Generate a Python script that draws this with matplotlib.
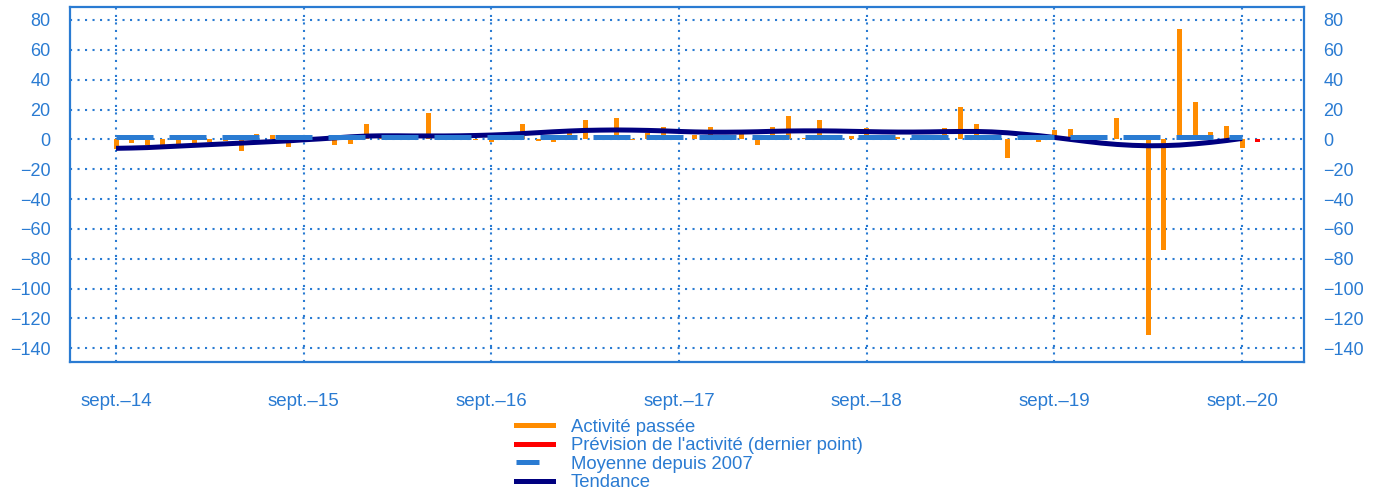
import matplotlib.pyplot as plt
from matplotlib.lines import Line2D

# months counted from sept. 2014 (0) to sept. 2020 (72)
activite = [
    -6.5, -2.5, -4.0, -3.7, -3.0, -2.5, -2.0, -1.0, -7.5, 3.7, 3.0, -4.8,
    0.5, 0.3, -4.0, -3.0, 10.0, 2.5, 0.5, 2.0, 18.0, -0.5, 0.5, -0.5,
    -2.0, 0.5, 10.5, -1.0, -1.8, 6.0, 13.0, 1.0, 14.0, -0.5, 4.0, 8.5,
    1.0, 3.0, 8.0, 1.0, 4.0, -4.0, 8.0, 15.7, 1.0, 13.0, 1.0, 2.0,
    7.5, 0.5, 1.5, 0.5, 0.5, 7.5, 22.0, 10.4, 0.5, -12.6, 0.5, -1.5,
    6.3, 7.0, 0.5, 1.5, 14.3, 0.5, -130.8, -74.4, 73.7, 25.0, 5.0, 9.0,
    -5.7,
]

prevision_mois = 73
prevision = -2.0

moyenne = 1.4

tendance = [
    -6.0, -5.8, -5.5, -5.0, -4.5, -4.0, -3.5, -3.0, -2.5, -2.0, -1.5, -1.0,
    -0.3, 0.3, 1.0, 1.7, 2.2, 2.4, 2.4, 2.3, 2.3, 2.3, 2.4, 2.6,
    2.9, 3.3, 3.9, 4.5, 5.1, 5.6, 6.0, 6.2, 6.3, 6.2, 6.0, 5.7,
    5.3, 5.0, 4.8, 4.8, 4.9, 5.1, 5.4, 5.6, 5.7, 5.7, 5.6, 5.4,
    5.2, 5.0, 4.9, 4.9, 5.0, 5.2, 5.3, 5.3, 5.0, 4.4, 3.5, 2.5,
    1.3, 0.0, -1.3, -2.5, -3.4, -4.0, -4.3, -4.2, -3.8, -3.0, -2.0, -0.8,
    0.6,
]

tick_pos = [0, 12, 24, 36, 48, 60, 72]
tick_labels = ["sept.–14", "sept.–15", "sept.–16", "sept.–17",
               "sept.–18", "sept.–19", "sept.–20"]

bleu = "#2a7bd2"
orange = "#ff8c00"
rouge = "#ff0000"
marine = "#000080"

plt.rcParams["font.family"] = ["Liberation Sans", "DejaVu Sans"]

fig = plt.figure(figsize=(13.79, 4.90), dpi=100)
ax = fig.add_axes([0.0508, 0.2612, 0.8948, 0.7245])

mois = list(range(len(activite)))
ax.bar(mois, activite, width=0.32, color=orange, zorder=2)
ax.bar([prevision_mois], [prevision], width=0.32, color=rouge, zorder=2)
ax.plot(mois, tendance, color=marine, linewidth=3.6, zorder=3,
        solid_capstyle="butt")
ax.plot([0, 72], [moyenne, moyenne], color=bleu, linewidth=3.6,
        dashes=[7.4, 3.2], dash_capstyle="butt", zorder=4)

ax.set_xlim(-2.94, 75.96)
ax.set_ylim(-149.2, 88.7)
ax.set_yticks(range(-140, 81, 20))
ax.set_xticks(tick_pos)
ax.set_xticklabels(tick_labels)

ax.grid(True, color=bleu, linestyle=(0, (1, 2.6)), linewidth=1.5, zorder=1)
ax.set_axisbelow(True)

for s in ax.spines.values():
    s.set_color(bleu)
    s.set_linewidth(1.6)

ax.tick_params(axis="both", length=0, colors=bleu)
ax.tick_params(axis="x", pad=22, labelsize=13.5)
ax.tick_params(axis="y", labelright=True, pad=14, labelsize=13)

handles = [
    Line2D([], [], color=orange, linewidth=3.6),
    Line2D([], [], color=rouge, linewidth=3.6),
    Line2D([], [], color=bleu, linewidth=3.6, linestyle=(0, (4.6, 10))),
    Line2D([], [], color=marine, linewidth=3.6),
]
labels = ["Activité passée", "Prévision de l'activité (dernier point)",
          "Moyenne depuis 2007", "Tendance"]
leg = fig.legend(handles, labels, loc="lower center",
                 bbox_to_anchor=(0.5, -0.029), frameon=False, fontsize=13.3,
                 labelspacing=0.08, handlelength=2.0, handletextpad=0.95,
                 borderpad=0.2)
for t in leg.get_texts():
    t.set_color(bleu)

fig.savefig("out.png", dpi=100)
